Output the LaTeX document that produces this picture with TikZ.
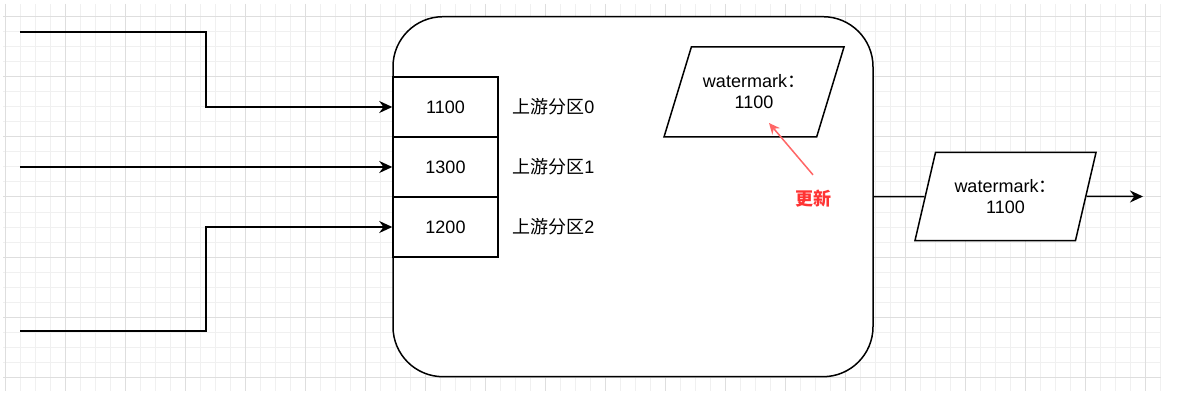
\documentclass[tikz,border=0pt]{standalone}
\usepackage{fontspec}
\setmainfont{Liberation Sans}
\newfontfamily\cjk{Noto Sans CJK SC}
\usetikzlibrary{arrows.meta,shapes.geometric,positioning}
\definecolor{gridminor}{HTML}{F0F0F0}
\definecolor{gridmajor}{HTML}{DEDEDE}
\definecolor{updred}{HTML}{FF6666}
\definecolor{updtext}{HTML}{FF3333}
\newcommand\wmsize{\fontsize{18}{21}\selectfont}

\tikzset{
  wire/.style={line width=1.5pt},
  part/.style={draw,fill=white,line width=1.5pt,minimum width=105pt,minimum height=60pt,inner sep=0pt},
  wmbox/.style={draw,fill=white,line width=1.5pt,trapezium,trapezium stretches body,align=center,inner xsep=0pt},
}

\begin{document}
\begin{tikzpicture}[x=1pt,y=-1pt,>={Stealth[length=13pt,width=12pt]},font=\wmsize]
\useasboundingbox (0,0) rectangle (1184,401);
% grid
\foreach \i in {0,...,77} \draw[gridminor,line width=1pt] ({5.3+15*\i},4) -- ({5.3+15*\i},391);
\foreach \i in {0,...,24} \draw[gridminor,line width=1pt] (3,{17+15*\i}) -- (1161,{17+15*\i});
\foreach \i in {0,...,19} \draw[gridmajor,line width=1pt] ({5.3+60*\i},4) -- ({5.3+60*\i},391);
\foreach \i in {0,...,6} \draw[gridmajor,line width=1pt] (3,{17+60*\i}) -- (1161,{17+60*\i});

% operator
\node[draw,fill=white,line width=1.5pt,rounded corners=50pt,minimum width=480pt,minimum height=360pt] (op) at (633,196.7) {};

\node[part] (p0) at (445.5,107) {1100};
\node[part] (p1) at (445.5,167) {1300};
\node[part] (p2) at (445.5,227) {1200};
\node[right=10pt of p0] (l0) {{\cjk 上游分区}0};
\node[right=10pt of p1] (l1) {{\cjk 上游分区}1};
\node[right=10pt of p2] (l2) {{\cjk 上游分区}2};

\node[wmbox,trapezium left angle=72,trapezium right angle=108,inner ysep=25pt,minimum width=180pt,minimum height=90pt] (wm0) at (754,92) {watermark{\cjk ：}\\1100};
\node[wmbox,trapezium left angle=76,trapezium right angle=104,inner ysep=24pt,minimum width=181pt,minimum height=88pt] (wm1) at (1005.5,196.5) {watermark{\cjk ：}\\1100};

% update
\node[text=updtext,font=\cjk\bfseries\wmsize] (upd) at (813,199) {更新};
\coordinate (updtip) at (769,123);
\draw[->,updred,line width=1.5pt,>={Stealth[length=11pt,width=10pt]}] (upd.north) ++(0,-12) -- (updtip);

% inputs
\coordinate (in0) at (20,32);
\coordinate (in1) at (20,167);
\coordinate (in2) at (20,331);
\coordinate (out) at (1143,196.5);
\draw[wire,->] (in0) -- ++(186,0) |- (p0.west);
\draw[wire,->] (in1) -- (p1.west);
\draw[wire,->] (in2) -- ++(186,0) |- (p2.west);

% output
\draw[wire] (op.east) -- (wm1);
\draw[wire,->] (wm1) -- (out);
\end{tikzpicture}
\end{document}
